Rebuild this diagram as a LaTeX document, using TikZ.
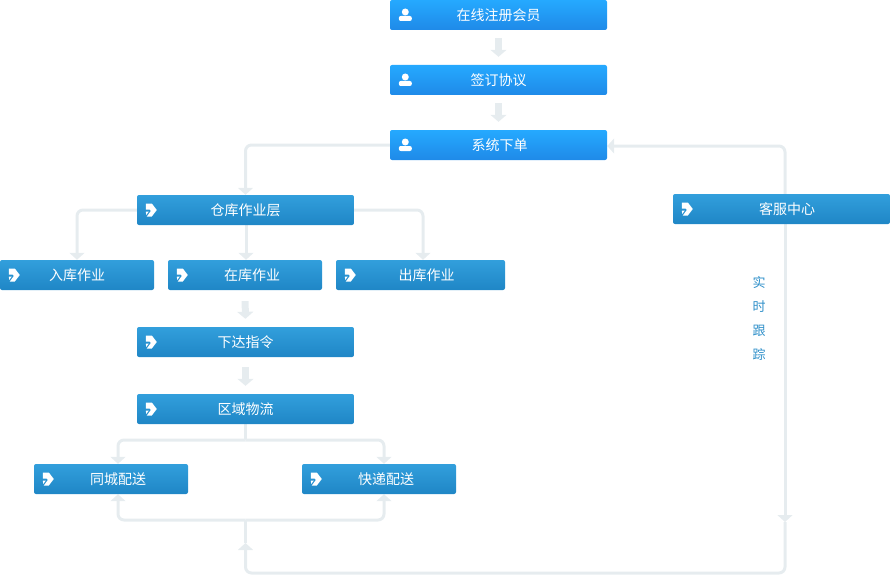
\documentclass[tikz,border=0pt]{standalone}
\usepackage{fontspec}
\setmainfont{Noto Sans CJK SC}
\usetikzlibrary{arrows.meta,backgrounds}
\definecolor{linegray}{HTML}{E6ECEF}
\definecolor{trackblue}{HTML}{2E8FC9}
\definecolor{userblue}{HTML}{25A9FF}
\definecolor{userdeep}{HTML}{1F8AE8}
\definecolor{flowblue}{HTML}{329FDC}
\definecolor{flowdeep}{HTML}{1F86C6}
\tikzset{
  basebox/.style={rounded corners=2pt, minimum height=30pt, inner sep=0pt,
    text=white, font=\fontsize{14}{14}\selectfont},
  userbox/.style={basebox, top color=userblue, bottom color=userdeep},
  flowbox/.style={basebox, top color=flowblue, bottom color=flowdeep},
  nudged/.style={execute at begin node=\hspace*{#1}},
  nudged/.default=14pt,
  link/.style={draw=linegray, line width=3pt, rounded corners=6pt, -{Triangle[width=15pt,length=7pt]}},
  plainlink/.style={draw=linegray, line width=3pt, rounded corners=6pt},
  blockarrow/.style={draw=linegray, line width=7pt, shorten <=8pt, shorten >=8pt,
    -{Triangle[width=16pt,length=7pt]}},
  usericon/.pic={
    \fill[white] (15.5,-3) circle (3.5);
    \fill[white, rounded corners=2pt] (9,6) -- (9,1) -- (22,1) -- (22,6) -- cycle;
  },
  flowicon/.pic={
    \fill[white] (9,-6.5) -- (15,-6.5) -- (20,0) -- (15,6.5) -- (10,6.5) -- (14,1)
      -- (13,-0.5) -- (9,-0.5) -- cycle;
    \fill[white] (9,1.5) -- (12,1.5) -- (9.5,5) -- cycle;
  },
}
\begin{document}
\begin{tikzpicture}[x=1pt,y=-1pt]
  \useasboundingbox (0,0) rectangle (890,575);
  \coordinate (trackend) at (785,522);
  \coordinate (busup) at (245.5,543);
  \coordinate (buscorner) at (245.5,573);
  \coordinate (busjoin) at (245.5,520);
  \coordinate (split) at (245.5,440);
  \node[userbox, minimum width=217pt] (signup) at (498.5,15) {在线注册会员};
  \node[userbox, minimum width=217pt] (agree) at (498.5,80) {签订协议};
  \node[userbox, nudged=2pt, minimum width=217pt] (order) at (498.5,145) {系统下单};
  \node[flowbox, minimum width=217pt] (house) at (245.5,210) {仓库作业层};
  \node[flowbox, nudged=11pt, minimum width=217pt] (service) at (781.5,209) {客服中心};
  \node[flowbox, minimum width=154pt] (inbound) at (77,275) {入库作业};
  \node[flowbox, nudged, minimum width=154pt] (instock) at (245,275) {在库作业};
  \node[flowbox, nudged=12pt, minimum width=169pt] (outbound) at (420.5,275) {出库作业};
  \node[flowbox, minimum width=217pt] (command) at (245.5,342) {下达指令};
  \node[flowbox, minimum width=217pt] (zone) at (245.5,409) {区域物流};
  \node[flowbox, nudged, minimum width=154pt] (city) at (111,479) {同城配送};
  \node[flowbox, nudged, minimum width=154pt] (express) at (379,479) {快递配送};
  \node[text=trackblue, font=\fontsize{13}{24}\selectfont, align=center, inner sep=0pt] (track) at (759,318) {实\\时\\跟\\踪};
  \foreach \boxname in {signup,agree,order}
    \pic at (\boxname.west) {usericon};
  \foreach \boxname in {house,service,inbound,instock,outbound,command,zone,city,express}
    \pic at (\boxname.west) {flowicon};
  \begin{scope}[on background layer]
    \draw[blockarrow] (signup) -- (agree);
    \draw[blockarrow] (agree) -- (order);
    \draw[blockarrow, shorten <=11pt] (instock.south) -- (command.north);
    \draw[blockarrow, shorten <=10pt] (command) -- (zone);
    \draw[link] (order.west) -| (house.north);
    \draw[link] (house.west) -| (inbound.north);
    \draw[link] ([xshift=0.5pt]house.south) -- ([xshift=1pt]instock.north);
    \draw[link] (house.east) -| ([xshift=2.5pt]outbound.north);
    \draw[plainlink] (zone.south) -- (split);
    \draw[link] (split) -| ([xshift=7pt]city.north);
    \draw[link] (split) -| ([xshift=5pt]express.north);
    \draw[plainlink] (busjoin) -- (busup);
    \draw[link] (busjoin) -| ([xshift=7pt]city.south);
    \draw[link] (busjoin) -| ([xshift=5pt]express.south);
    \draw[link] (trackend) |- (buscorner) -- (busup);
    \draw[link] ([xshift=3.5pt]service.north) |- ([yshift=-1pt]order.east);
    \draw[link] ([xshift=3.5pt]service.south) -- (trackend);
  \end{scope}
\end{tikzpicture}
\end{document}
